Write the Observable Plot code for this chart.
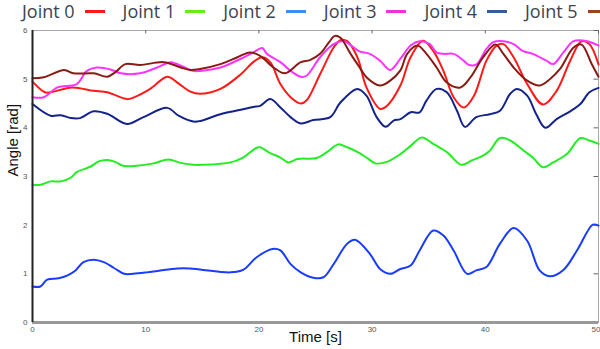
<!DOCTYPE html>
<html>
<head>
<meta charset="utf-8">
<script src="https://cdn.jsdelivr.net/npm/d3@7"></script>
<script src="https://cdn.jsdelivr.net/npm/@observablehq/plot@0.6"></script>
<style>
  html, body { margin: 0; padding: 0; background: #fff; }
  #wrap { width: 600px; height: 349px; position: relative; overflow: hidden; }
  #legend { height: 24px; position: relative; font-family: "Open Sans", "Noto Sans", sans-serif; font-size: 18px; color: #3c4450; }
  .item { position: absolute; top: -1px; height: 24px; display: flex; align-items: center; white-space: nowrap; }
  .sw { display: inline-block; width: 20px; height: 3px; margin-left: 10px; }
  svg { display: block; }
</style>
</head>
<body>
<div id="wrap">
  <div id="legend"></div>
  <div id="chart"></div>
</div>
<script>
// Series names, line colours, legend swatch colours
const names = ["Joint 0", "Joint 1", "Joint 2", "Joint 3", "Joint 4", "Joint 5"];
const lineColors = ["#ff1a1a", "#22ee22", "#1a3cff", "#ff33ff", "#13238a", "#8a1a14"];
const swatchColors = ["#ff1a1a", "#66ee11", "#3a90ee", "#ee33dd", "#3a5a99", "#99441a"];
const xTicks = [0, 10, 20, 30, 40, 50];
const yTicks = [0, 1, 2, 3, 4, 5, 6];

// [time (s), angle (rad)]
const joint0 = [[0,4.95],[1.1,4.73],[1.6,4.73],[3.5,4.83],[5.4,4.76],[6.6,4.73],[8.35,4.59],[8.9,4.62],[10.4,4.8],[11.9,5.05],[12.8,4.93],[13.9,4.75],[14.8,4.70],[16.6,4.80],[18.4,5.1],[19.5,5.35],[20.3,5.45],[21.0,5.35],[21.9,4.9],[22.8,4.63],[23.7,4.50],[24.2,4.56],[25.4,5.1],[26.6,5.65],[27.2,5.8],[27.8,5.78],[28.7,5.45],[29.5,4.83],[30.7,4.39],[31.3,4.45],[32.5,4.87],[33.4,5.45],[34.5,5.79],[35.4,5.58],[36.3,5.17],[37.2,4.63],[38.1,4.42],[39.0,4.66],[40.1,5.38],[41.0,5.69],[41.6,5.72],[42.5,5.45],[43.7,4.90],[45.1,4.48],[46.3,4.76],[47.5,5.38],[48.5,5.78],[49.2,5.72],[50,5.3]];
const joint1 = [[0,2.83],[0.7,2.83],[1.6,2.90],[2.5,2.9],[3.4,2.98],[3.9,3.09],[5.1,3.2],[5.85,3.31],[6.6,3.34],[7.3,3.3],[8.0,3.22],[9.2,3.22],[10.7,3.27],[12.0,3.35],[13.1,3.28],[14.2,3.24],[15.0,3.24],[17.5,3.29],[18.6,3.39],[19.8,3.59],[20.1,3.6],[21.0,3.48],[21.9,3.39],[22.6,3.29],[23.4,3.36],[25.1,3.38],[26.0,3.5],[27.0,3.66],[27.8,3.6],[28.9,3.48],[29.5,3.39],[30.3,3.27],[31.3,3.3],[32.5,3.46],[33.4,3.63],[34.4,3.8],[35.4,3.67],[36.6,3.5],[37.9,3.24],[38.8,3.33],[39.8,3.43],[40.4,3.53],[41.3,3.79],[42.2,3.74],[43.4,3.53],[44.2,3.39],[45.1,3.19],[46.0,3.29],[47.2,3.46],[48.4,3.79],[49.2,3.74],[50,3.67]];
const joint2 = [[0,0.74],[0.7,0.74],[1.3,0.88],[2.3,0.91],[3.1,0.97],[3.8,1.07],[4.5,1.24],[5.4,1.29],[6.3,1.24],[7.2,1.12],[8.1,1.0],[8.9,1.0],[10.1,1.03],[11.3,1.07],[12.8,1.11],[13.9,1.11],[14.8,1.09],[17.5,1.03],[18.6,1.08],[19.8,1.34],[21.2,1.51],[21.9,1.48],[22.8,1.2],[23.7,1.03],[24.8,0.92],[25.7,0.93],[26.6,1.2],[27.8,1.62],[28.5,1.70],[29.8,1.41],[30.7,1.10],[31.6,1.0],[32.5,1.10],[33.4,1.17],[34.2,1.48],[35.4,1.89],[36.3,1.79],[37.2,1.48],[38.4,1.0],[39.2,1.07],[40.1,1.14],[41.3,1.62],[42.5,1.94],[43.7,1.68],[44.8,1.07],[45.7,0.95],[46.9,1.08],[48.1,1.48],[49.5,2.01],[50,1.99]];
const joint3 = [[0,4.63],[1.0,4.63],[2.2,4.83],[3.9,4.9],[4.8,5.17],[5.7,5.24],[6.9,5.2],[7.8,5.12],[9.5,5.12],[11.0,5.24],[12.2,5.35],[12.9,5.3],[14.2,5.17],[14.8,5.17],[16.6,5.24],[18.4,5.42],[19.5,5.55],[20.3,5.64],[20.7,5.52],[21.9,5.35],[22.8,5.17],[23.7,5.05],[24.2,5.07],[25.4,5.45],[26.6,5.72],[27.5,5.78],[28.4,5.65],[28.9,5.57],[29.8,5.52],[30.7,5.38],[31.6,5.19],[32.5,5.42],[33.4,5.69],[34.2,5.78],[35.1,5.72],[35.7,5.55],[36.3,5.52],[37.2,5.52],[38.1,5.38],[38.5,5.3],[39.2,5.3],[40.1,5.62],[40.7,5.76],[41.6,5.78],[42.5,5.72],[43.3,5.58],[44.2,5.52],[45.4,5.38],[46.0,5.31],[46.9,5.55],[47.8,5.78],[49.0,5.78],[50,5.69]];
const joint4 = [[0,4.49],[1.6,4.25],[2.5,4.26],[3.4,4.2],[4.2,4.2],[5.4,4.34],[6.6,4.29],[8.35,4.08],[9.8,4.22],[11.9,4.41],[12.9,4.25],[14.2,4.13],[14.8,4.14],[16.6,4.28],[18.4,4.37],[19.5,4.43],[20.1,4.45],[21.0,4.59],[21.9,4.42],[22.8,4.22],[23.7,4.09],[24.8,4.16],[26.3,4.22],[27.2,4.52],[28.7,4.8],[29.5,4.66],[30.4,4.22],[31.2,4.02],[31.9,4.15],[32.5,4.18],[33.4,4.32],[34.2,4.32],[34.8,4.56],[35.7,4.8],[36.6,4.73],[37.5,4.35],[38.2,4.02],[39.2,4.22],[40.4,4.28],[41.3,4.35],[42.2,4.70],[42.8,4.8],[43.7,4.66],[44.5,4.28],[45.3,4.0],[46.3,4.18],[47.5,4.34],[48.4,4.49],[49.2,4.73],[50,4.82]];
const joint5 = [[0,5.02],[1.0,5.04],[2.8,5.19],[3.6,5.12],[5.4,5.12],[6.6,5.05],[7.3,5.14],[8.2,5.31],[9.5,5.29],[11.6,5.35],[13.1,5.24],[13.9,5.19],[14.8,5.21],[16.6,5.31],[18.1,5.45],[19.2,5.55],[20.1,5.48],[21.3,5.24],[22.3,5.12],[23.7,5.35],[24.5,5.39],[25.4,5.52],[26.2,5.76],[26.7,5.89],[27.2,5.85],[28.1,5.52],[28.9,5.24],[29.5,5.04],[30.7,4.87],[31.6,4.97],[32.5,5.18],[33.1,5.52],[34.0,5.69],[34.8,5.52],[35.7,5.24],[36.6,4.93],[37.8,4.83],[38.7,5.04],[39.8,5.45],[40.9,5.71],[41.6,5.52],[42.5,5.24],[43.7,4.97],[44.8,4.87],[45.7,5.0],[46.6,5.21],[47.8,5.65],[48.5,5.71],[49.4,5.31],[50,5.05]];

const series = [joint0, joint1, joint2, joint3, joint4, joint5];
const data = series.flatMap((s, i) => s.map(([t, v]) => ({t, v, joint: names[i]})));

// Legend
const legend = document.getElementById("legend");
names.forEach((n, i) => {
  const it = document.createElement("div");
  it.className = "item";
  it.style.left = (22 + i * 100.6) + "px";
  const lab = document.createElement("span");
  lab.textContent = n;
  const sw = document.createElement("span");
  sw.className = "sw";
  sw.style.background = swatchColors[i];
  it.appendChild(lab);
  it.appendChild(sw);
  legend.appendChild(it);
});

const chart = Plot.plot({
  width: 600,
  height: 325,
  marginTop: 6,
  marginBottom: 27,
  marginLeft: 32,
  marginRight: 2,
  style: {fontFamily: "Liberation Sans, Arial, sans-serif", fontSize: "8px", color: "#555", background: "#fff"},
  x: {domain: [0, 50]},
  y: {domain: [0, 6]},
  color: {domain: names, range: lineColors},
  marks: [
    Plot.frame({stroke: "#aaa", strokeWidth: 1}),
    Plot.ruleX(xTicks, {x: d => d, y1: 6, y2: 5.93, stroke: "#666"}),
    Plot.ruleY(yTicks, {y: d => d, x1: 50, x2: 49.6, stroke: "#666"}),
    Plot.lineY(data, {x: "t", y: "v", z: "joint", stroke: "joint", strokeWidth: 2, curve: "catmull-rom"}),
    Plot.axisX(xTicks.slice(0, -1), {tickSize: 2, tickPadding: 2, label: null, stroke: "#555", tickFormat: "d"}),
    Plot.axisX([50], {tickSize: 2, tickPadding: 2, label: null, stroke: "#555", tickFormat: "d", textAnchor: "end", dx: 2}),
    Plot.axisY({ticks: yTicks, tickSize: 0, tickPadding: 5, label: null, tickFormat: "d"}),
    Plot.ruleY([0], {stroke: "#999", strokeWidth: 3}),
    Plot.ruleX([0], {stroke: "#222", strokeWidth: 2}),
    Plot.text(["Time [s]"], {frameAnchor: "bottom", dy: 19, fontSize: 15, fill: "#111", fontFamily: "Liberation Sans, Arial, sans-serif"}),
    Plot.text(["Angle [rad]"], {frameAnchor: "left", dx: -19, rotate: -90, fontSize: 15, fill: "#111", fontFamily: "Liberation Sans, Arial, sans-serif"})
  ]
});
document.getElementById("chart").appendChild(chart);
</script>
</body>
</html>
